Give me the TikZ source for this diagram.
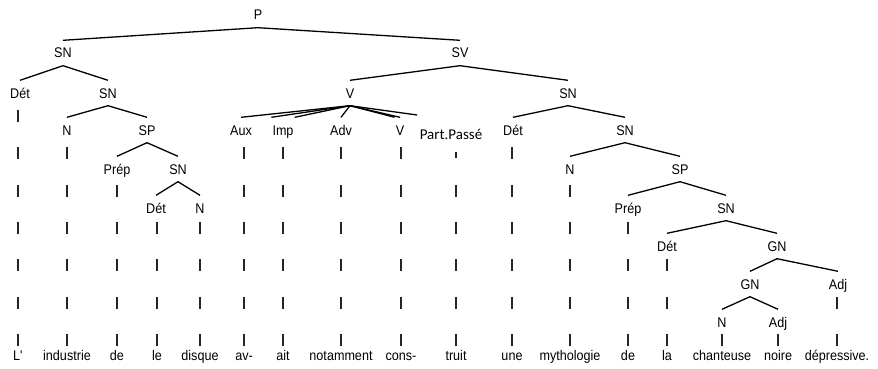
\documentclass[tikz,border=0pt]{standalone}
\usepackage{fontspec}
\setmainfont[FakeStretch=0.9]{Liberation Sans}
\newfontfamily\calfont{Carlito}
\usetikzlibrary{calc}

\tikzset{
  cat/.style={font=\fontsize{14}{16}\selectfont, inner xsep=1pt, inner ysep=7.5pt, text height=10pt, text depth=0pt},
  word/.style={font=\fontsize{14}{16}\selectfont, anchor=base, inner sep=0pt},
  edge/.style={line width=1.3pt},
  bar/.style={line width=1.2pt, black!85},
}

\begin{document}
\begin{tikzpicture}[x=1pt, y=-1pt]
  \useasboundingbox (0,0) rectangle (878,369);
  % categories
  \node[cat] (p) at (258,15) {P};
  \node[cat] (sn1) at (63,53) {SN};
  \node[cat] (sv) at (460,53) {SV};
  \node[cat] (det1) at (20,93) {Dét};
  \node[cat] (sn2) at (108,93) {SN};
  \node[cat] (v) at (350,93) {V};
  \node[cat] (sn3) at (568,93) {SN};
  \node[cat] (n1) at (67,130) {N};
  \node[cat] (sp1) at (147,130) {SP};
  \node[cat] (aux) at (241,130) {Aux};
  \node[cat] (imp) at (283,130) {Imp};
  \node[cat] (adv) at (341,130) {Adv};
  \node[cat] (vp) at (400,130) {V};
  \node[cat, font=\calfont\fontsize{15}{17}\selectfont] (pp) at (451,134.5) {Part.Passé};
  \node[cat] (det3) at (513,130) {Dét};
  \node[cat] (sn5) at (625,130) {SN};
  \node[cat] (prep1) at (117,169) {Prép};
  \node[cat] (sn4) at (178,169) {SN};
  \node[cat] (n3) at (570,169) {N};
  \node[cat] (sp2) at (680,169) {SP};
  \node[cat] (det2) at (156,208) {Dét};
  \node[cat] (n2) at (200,208) {N};
  \node[cat] (prep2) at (628,208) {Prép};
  \node[cat] (sn6) at (726,208) {SN};
  \node[cat] (det4) at (667,246) {Dét};
  \node[cat] (gn1) at (777,246) {GN};
  \node[cat] (gn2) at (750,284) {GN};
  \node[cat] (adj1) at (838,284) {Adj};
  \node[cat] (n4) at (722,322) {N};
  \node[cat] (adj2) at (778,322) {Adj};
  \coordinate (pptop) at (417,115);

  % branches
  \foreach \a/\b in {p/sn1, p/sv, sn1/det1, sn1/sn2, sn2/n1, sn2/sp1, sp1/prep1, sp1/sn4,
      sn4/det2, sn4/n2, sv/v, sv/sn3, sn3/det3, sn3/sn5, sn5/n3, sn5/sp2, sp2/prep2,
      sp2/sn6, sn6/det4, sn6/gn1, gn1/gn2, gn1/adj1, gn2/n4, gn2/adj2}
    \draw[edge] (\a.south) -- (\b.north);
  \draw[edge] (v.south) -- (aux.north);
  \draw[edge] (v.south) -- (imp.north west);
  \draw[edge] (v.south) -- (imp.north east);
  \draw[edge] (v.south) -- (adv.north);
  \draw[edge] (v.south) -- (vp.north west);
  \draw[edge] (v.south) -- (vp.north);
  \draw[edge] (v.south) -- (pptop);

  % words and their bars
  \foreach \x/\w [count=\i] in {18/L\textquotesingle, 67/industrie, 117/de, 157/le, 200/disque, 244/av-,
      283/ait, 341/notamment, 401/cons-, 456/truit, 512/une, 570/mythologie, 628/de,
      667/la, 722/chanteuse, 778/noire, 837/dépressive.}
    \node[word] (w\i) at (\x,360) {\w};
  \foreach \x/\r in {18/0, 67/1, 117/2, 157/3, 200/3, 244/1, 283/1, 341/1, 401/1, 456/2,
      512/1, 570/2, 628/3, 667/4, 722/6, 778/6, 837/5}
    \foreach \k in {\r,...,6}
      \draw[bar] (\x,{110+37.3*\k}) -- ++(0,12);
  \draw[bar] (456,152) -- ++(0,6);
\end{tikzpicture}
\end{document}
